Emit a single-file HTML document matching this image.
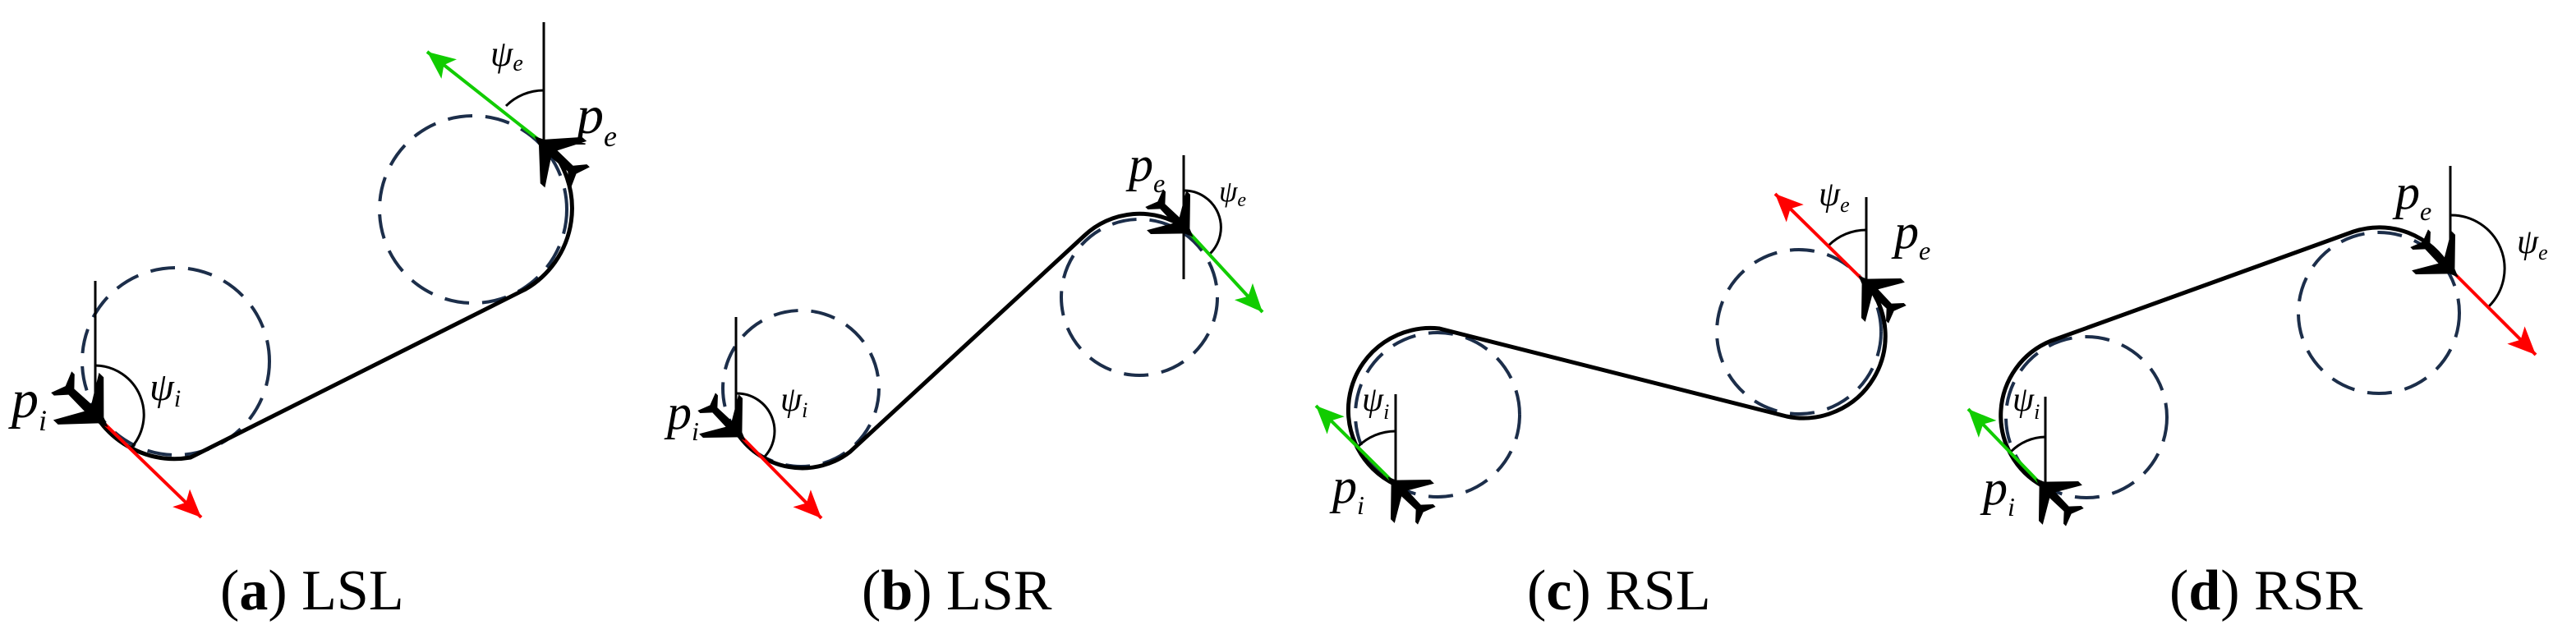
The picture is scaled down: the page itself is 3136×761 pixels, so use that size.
<!DOCTYPE html>
<html><head><meta charset="utf-8"><style>
html,body{margin:0;padding:0;background:#fff;}
svg{display:block;}
text{font-family:"Liberation Serif","DejaVu Serif",serif;}
</style></head><body>
<svg width="3136" height="761" viewBox="0 0 3136 761" xmlns="http://www.w3.org/2000/svg">
<defs>
<marker id="ar" markerUnits="userSpaceOnUse" markerWidth="40" markerHeight="40" viewBox="-34 -16 40 32" refX="0" refY="0" orient="auto">
<path d="M0,0 L-34,-15 L-26,0 L-34,15 Z" fill="#ff0000"/>
</marker>
<marker id="ag" markerUnits="userSpaceOnUse" markerWidth="40" markerHeight="40" viewBox="-34 -16 40 32" refX="0" refY="0" orient="auto">
<path d="M0,0 L-34,-15 L-26,0 L-34,15 Z" fill="#11cc00"/>
</marker>
<path id="pl" d="M16,0 L4,5 L-30,40 L-38,40 L-18,6 L-46,5 L-58,18 L-63,18 L-56,0 L-63,-18 L-58,-18 L-46,-5 L-18,-6 L-38,-40 L-30,-40 L4,-5 Z" fill="#000"/>
</defs>

<g fill="none" stroke="#1c2e4a" stroke-width="4" stroke-dasharray="30 16">
<circle cx="214" cy="440" r="114"/>
<circle cx="576" cy="255" r="114"/>
<circle cx="975" cy="473" r="95"/>
<circle cx="1387" cy="362" r="95"/>
<circle cx="1750" cy="505" r="100"/>
<circle cx="2190" cy="404" r="100"/>
<circle cx="2540" cy="508" r="98"/>
<circle cx="2896" cy="381" r="98"/>
</g>

<g fill="none" stroke="#000" stroke-width="5">
<path d="M116,505 A114,114 0 0 0 232,557 L640,352 A114,114 0 0 0 665,175"/>
<path d="M896,525 A95,95 0 0 0 1035,550 L1320,287 A98,98 0 0 1 1442,277"/>
<path d="M1699,590 A100,100 0 0 1 1752,400 L2175,507 A100,100 0 0 0 2272,345"/>
<path d="M2487,592 A98,98 0 0 1 2497,415 L2865,282 A98,98 0 0 1 2982,327"/>
</g>

<g fill="none" stroke="#000" stroke-width="3">
<line x1="116" y1="342" x2="116" y2="505"/>
<line x1="662" y1="27" x2="662" y2="175"/>
<line x1="896" y1="386" x2="896" y2="525"/>
<line x1="1441" y1="189" x2="1441" y2="340"/>
<line x1="1699" y1="480" x2="1699" y2="590"/>
<line x1="2272" y1="240" x2="2272" y2="345"/>
<line x1="2490" y1="483" x2="2490" y2="592"/>
<line x1="2983" y1="202" x2="2983" y2="327"/>
<path d="M116,445 A60,60 0 0 1 158,547"/>
<path d="M662,110 A65,65 0 0 0 616,129"/>
<path d="M896,479 A46,46 0 0 1 929,558"/>
<path d="M1441,232 A45,45 0 0 1 1473,309"/>
<path d="M1699,525 A65,65 0 0 0 1653,544"/>
<path d="M2272,280 A65,65 0 0 0 2226,299"/>
<path d="M2490,532 A60,60 0 0 0 2448,550"/>
<path d="M2983,262 A65,65 0 0 1 3030,373"/>
</g>

<g stroke-width="4" fill="none">
<line x1="116" y1="505" x2="245" y2="630" stroke="#ff0000" marker-end="url(#ar)"/>
<line x1="662" y1="175" x2="520" y2="63" stroke="#11cc00" marker-end="url(#ag)"/>
<line x1="896" y1="525" x2="1000" y2="631" stroke="#ff0000" marker-end="url(#ar)"/>
<line x1="1442" y1="277" x2="1537" y2="380" stroke="#11cc00" marker-end="url(#ag)"/>
<line x1="1699" y1="590" x2="1602" y2="494" stroke="#11cc00" marker-end="url(#ag)"/>
<line x1="2272" y1="345" x2="2161" y2="236" stroke="#ff0000" marker-end="url(#ar)"/>
<line x1="2487" y1="592" x2="2396" y2="498" stroke="#11cc00" marker-end="url(#ag)"/>
<line x1="2982" y1="327" x2="3087" y2="432" stroke="#ff0000" marker-end="url(#ar)"/>
</g>

<use href="#pl" transform="translate(120,509) rotate(44)"/>
<use href="#pl" transform="translate(662,176) rotate(222) scale(0.95)"/>
<use href="#pl" transform="translate(898,527) rotate(45) scale(0.85)"/>
<use href="#pl" transform="translate(1443,279) rotate(45) scale(0.85)"/>
<use href="#pl" transform="translate(1699,590) rotate(225) scale(0.85)"/>
<use href="#pl" transform="translate(2272,345) rotate(225) scale(0.85)"/>
<use href="#pl" transform="translate(2488,592) rotate(225) scale(0.85)"/>
<use href="#pl" transform="translate(2983,328) rotate(45) scale(0.85)"/>

<g font-style="italic" fill="#000">
<text x="14" y="508" font-size="66" font-style="italic">p<tspan font-size="36" dy="16">i</tspan></text>
<text x="182" y="487" font-size="48" font-style="italic">ψ<tspan font-size="30" dy="8">i</tspan></text>
<text x="597" y="80" font-size="44" font-style="italic">ψ<tspan font-size="28" dy="6">e</tspan></text>
<text x="702" y="162" font-size="66" font-style="italic">p<tspan font-size="36" dy="16">e</tspan></text>

<text x="812" y="522" font-size="60" font-style="italic">p<tspan font-size="32" dy="14">i</tspan></text>
<text x="950" y="500" font-size="42" font-style="italic">ψ<tspan font-size="26" dy="8">i</tspan></text>
<text x="1374" y="220" font-size="60" font-style="italic">p<tspan font-size="32" dy="14">e</tspan></text>
<text x="1484" y="245" font-size="36" font-style="italic">ψ<tspan font-size="24" dy="6">e</tspan></text>

<text x="1622" y="612" font-size="60" font-style="italic">p<tspan font-size="32" dy="14">i</tspan></text>
<text x="1658" y="500" font-size="42" font-style="italic">ψ<tspan font-size="26" dy="10">i</tspan></text>
<text x="2214" y="250" font-size="42" font-style="italic">ψ<tspan font-size="26" dy="8">e</tspan></text>
<text x="2306" y="302" font-size="60" font-style="italic">p<tspan font-size="32" dy="14">e</tspan></text>

<text x="2414" y="614" font-size="60" font-style="italic">p<tspan font-size="32" dy="14">i</tspan></text>
<text x="2450" y="500" font-size="42" font-style="italic">ψ<tspan font-size="26" dy="10">i</tspan></text>
<text x="2916" y="254" font-size="60" font-style="italic">p<tspan font-size="32" dy="14">e</tspan></text>
<text x="3064" y="308" font-size="42" font-style="italic">ψ<tspan font-size="26" dy="8">e</tspan></text>
</g>

<g font-size="70" fill="#000">
<text x="268" y="742">(<tspan font-weight="bold">a</tspan>) LSL</text>
<text x="1049" y="742">(<tspan font-weight="bold">b</tspan>) LSR</text>
<text x="1859" y="742">(<tspan font-weight="bold">c</tspan>) RSL</text>
<text x="2641" y="742">(<tspan font-weight="bold">d</tspan>) RSR</text>
</g>
</svg>
</body></html>
